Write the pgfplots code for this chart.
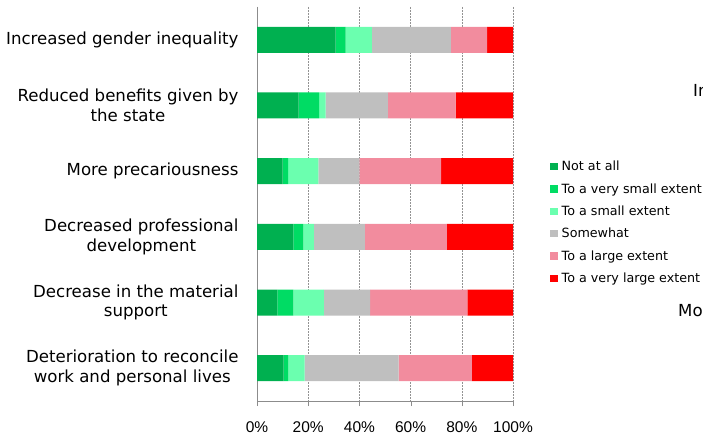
\documentclass[border=0pt]{standalone}
\usepackage{fontspec}
\setmainfont{DejaVu Sans}
\newfontfamily\arialf{Liberation Sans}
\usepackage{pgfplots}
\usepackage{pgfplotstable}
\pgfplotsset{compat=1.18}
\definecolor{c1}{RGB}{0,176,80}
\definecolor{c2}{RGB}{0,220,100}
\definecolor{c3}{RGB}{107,255,175}
\definecolor{c4}{RGB}{191,191,191}
\definecolor{c5}{RGB}{242,140,158}
\definecolor{c6}{RGB}{255,0,0}
\definecolor{axgray}{RGB}{140,140,140}
\pgfplotstableread{
cat a b c d e f
0 30.7 3.9 10.3 30.8 14.2 10.1
1 16.3 8.0 2.5 24.3 26.5 22.4
2 10.0 2.2 11.8 16.0 31.9 28.1
3 14.2 3.9 4.1 19.9 32.1 25.8
4 8.0 6.2 11.9 18.1 38.0 17.8
5 10.4 1.9 6.3 36.7 28.6 16.1
}\data
\begin{document}
\begin{tikzpicture}
\useasboundingbox (0,0) rectangle (703pt,438pt);
\begin{axis}[
  at={(257pt,37pt)}, anchor=south west,
  scale only axis, width=256pt, height=394pt,
  xbar stacked, bar width=26pt,
  y dir=reverse,
  xmin=0, xmax=100, ymin=-0.5, ymax=5.5,
  axis lines=left, axis line style={draw=axgray, -},
  xtick={0,20,...,100},
  xticklabel={\pgfmathprintnumber{\tick}\%},
  /pgf/number format/assume math mode=true,
  xticklabel style={font=\arialf\fontsize{15.5}{17}\selectfont, yshift=-12pt},
  xmajorgrids, major grid style={dash pattern=on 2pt off 1pt, draw=gray!85},
  ytick={0,...,5},
  yticklabels={Increased gender inequality, {Reduced benefits given by\\the state}, More precariousness, {Decreased professional\\development}, {Decrease in the material\\support}, {Deterioration to reconcile\\work and personal lives}},
  yticklabel style={align=center, font=\fontsize{16.6}{19.5}\selectfont, xshift=-10pt},
  minor ytick={-0.5,0.5,...,5.5},
  tick align=outside,
  major tick length=5pt, minor tick length=6pt,
  ytick style={draw=none},
  minor tick style={draw=axgray},
  xtick style={draw=axgray},
  every axis plot/.append style={draw=none},
  clip=false,
  legend cell align=left,
  legend style={at={(axis description cs:1.1445,0.612)}, anchor=north west, draw=none, fill=none,
    font=\fontsize{12.7}{14}\selectfont, row sep=9.2pt, inner sep=0pt,
    /tikz/every odd column/.style={column sep=3pt}, nodes={inner sep=1pt}},
  legend image code/.code={\fill[#1] (0pt,-3.6pt) rectangle (7.5pt,3.6pt);},
]
\addplot[fill=c1, draw=none] table[x=a, y=cat] \data;
\addplot[fill=c2, draw=none] table[x=b, y=cat] \data;
\addplot[fill=c3, draw=none] table[x=c, y=cat] \data;
\addplot[fill=c4, draw=none] table[x=d, y=cat] \data;
\addplot[fill=c5, draw=none] table[x=e, y=cat] \data;
\addplot[fill=c6, draw=none] table[x=f, y=cat] \data;
\legend{Not at all, To a very small extent, To a small extent, Somewhat, To a large extent, To a very large extent}
\end{axis}
\node[anchor=west, font=\fontsize{16.6}{19}\selectfont, inner sep=0pt] at (693pt,346pt) {Increased gender inequality};
\node[anchor=west, font=\fontsize{16.6}{19}\selectfont, inner sep=0pt] at (678pt,126pt) {More precariousness};
\end{tikzpicture}
\end{document}
